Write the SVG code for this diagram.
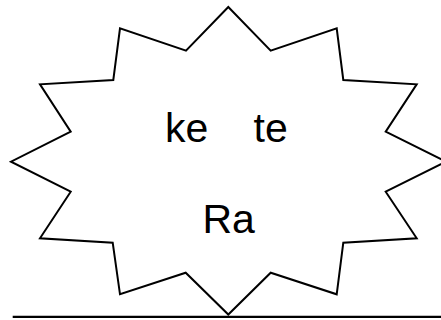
<svg xmlns="http://www.w3.org/2000/svg" width="441" height="320" viewBox="0 0 441 320">
<style>
.burst{fill:#fff;stroke:#000;stroke-width:2;stroke-linejoin:miter}
.lbl{font-family:"Liberation Sans","Open Sans",Arial,sans-serif;font-size:41px;fill:#000}
.base{stroke:#000;stroke-width:2.2}
</style>
<rect width="441" height="320" fill="#fff"/>
<g id="burst">
<polygon class="burst" points="228.3,7 270.7,50.7 336.7,28.3 343.3,80 416.7,84.3 385.7,131.7 446,161.7 385.7,191.7 416.7,238.3 343.3,242.7 336.7,294.3 270.7,272.7 228.3,314.5 185.7,272.7 120,294.3 112.7,242.7 40,238.3 70.7,191.7 11,161.7 70.7,131.7 40,84.3 113.3,80 120,28.3 186,50.7"/>
<text class="lbl" xml:space="preserve" y="141.7"><tspan x="165">ke</tspan> <tspan x="253.5">te</tspan></text>
<text class="lbl" x="228.7" y="232.7" text-anchor="middle">Ra</text>
</g>
<g id="connectors">
<line class="base" x1="12.7" y1="316.8" x2="441" y2="316.8"/>
</g>
</svg>
